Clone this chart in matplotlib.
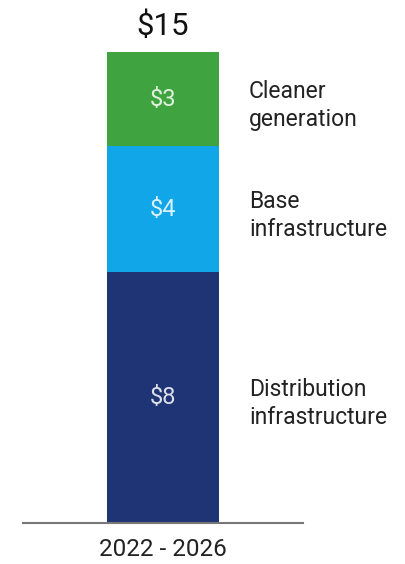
import matplotlib
matplotlib.use("Agg")
import matplotlib.pyplot as plt

plt.rcParams['font.family'] = ['Roboto', 'DejaVu Sans']

# Data (billions of dollars)
period = '2022 - 2026'
segments = ['Distribution\ninfrastructure', 'Base\ninfrastructure', 'Cleaner\ngeneration']
values = [8, 4, 3]
colors = ['#1f3474', '#10a6e8', '#3fa43f']
total = sum(values)

fig = plt.figure(figsize=(4.05, 5.64), dpi=100)
ax = fig.add_axes([23 / 405, 41 / 564, 280 / 405, 471 / 564])

bottom = 0
for name, v, c in zip(segments, values, colors):
    ax.bar(0, v, width=0.4, bottom=bottom, color=c, zorder=2)
    mid = bottom + v / 2
    ax.text(0, mid, f'${v}', ha='center', va='center', color='white',
            alpha=0.85, fontsize=17, zorder=3)
    # side labels sit a little below the segment middle
    ax.text(0.307, mid - 0.2, name, ha='left', va='center', color='#222222',
            fontsize=16.5, linespacing=1.3, clip_on=False)
    bottom += v

ax.text(0, total + 0.35, f'${total}', ha='center', va='bottom', fontsize=22.5,
        color='#111111', clip_on=False)

ax.set_xlim(-0.5, 0.5)
ax.set_ylim(0, total)
ax.set_xticks([0])
ax.set_xticklabels([period], fontsize=17.5, color='#222222')
ax.tick_params(axis='x', length=0, pad=11)
ax.set_yticks([])
for s in ['top', 'right', 'left']:
    ax.spines[s].set_visible(False)
ax.spines['bottom'].set_color('#777777')
ax.spines['bottom'].set_linewidth(1.5)

fig.savefig('out.png', dpi=100)
